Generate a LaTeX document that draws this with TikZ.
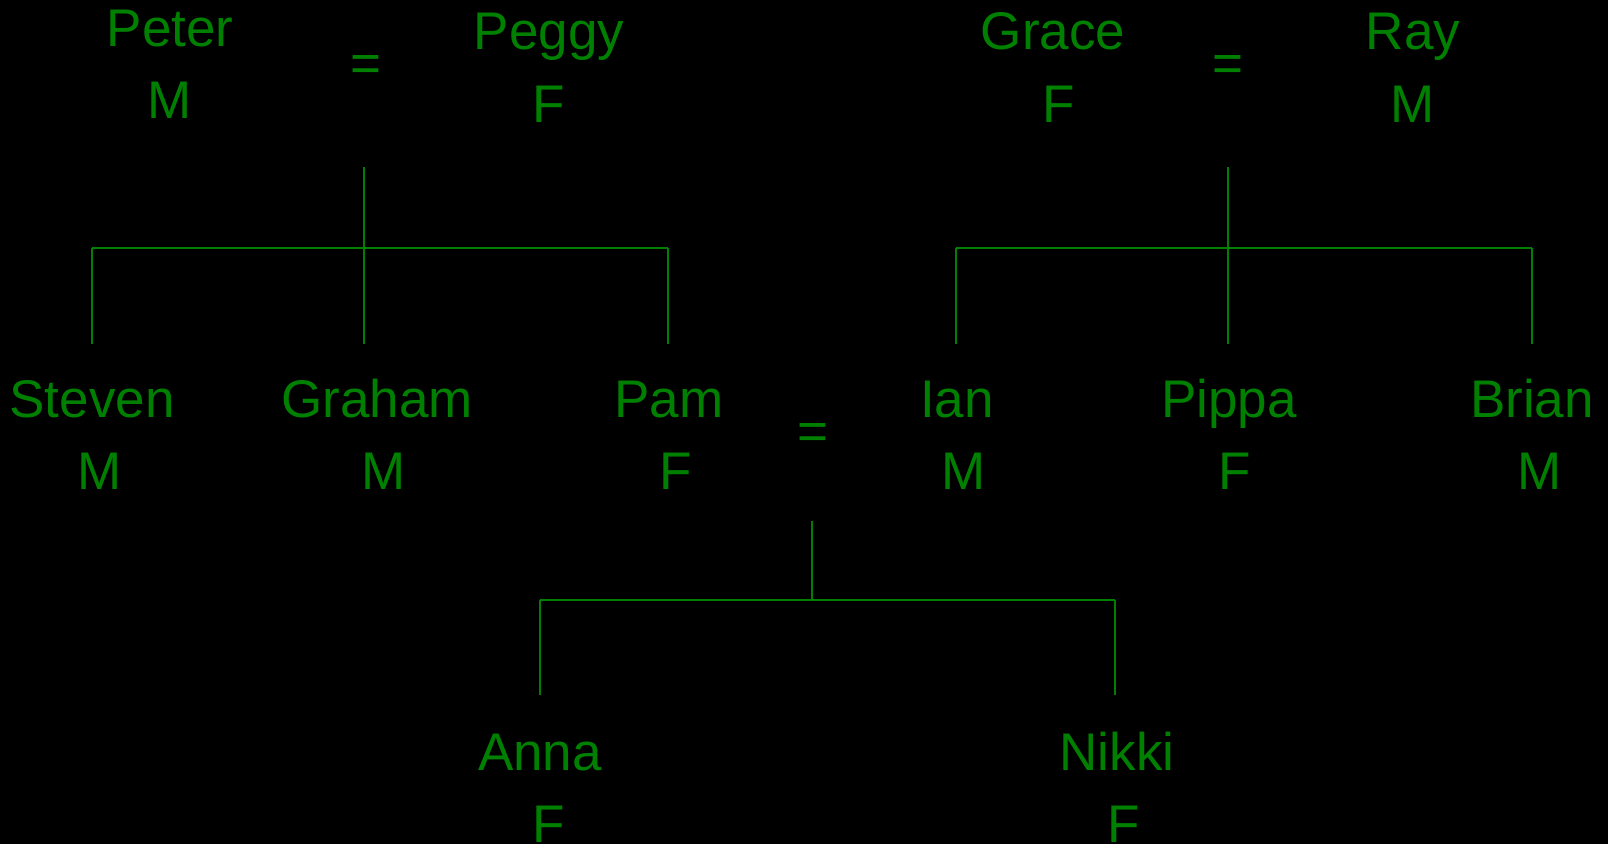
\documentclass[tikz,border=0pt]{standalone}
\usepackage{fontspec}
\setmainfont{Liberation Sans}
\definecolor{famgreen}{HTML}{008000}
\tikzset{
	person/.style = {anchor=base, inner sep=0pt, text=famgreen, font=\fontsize{26.5pt}{32pt}\selectfont},
	sex/.style = {person},
	marry/.style = {person},
	line/.style = {draw=famgreen, line width=0.8pt}
}

\begin{document}
\begin{tikzpicture}[x=0.5pt, y=-0.5pt]
		%背景
		\fill[black] (0,0) rectangle (1608,844);

		%第一代
		\node (peter) [person] at (170,47) {Peter};
		\node (peterS) [sex] at (170,119) {M};
		\node (ppeq) [marry] at (366,82) {=};
		\node (peggy) [person] at (549,50) {Peggy};
		\node (peggyS) [sex] at (549,123) {F};
		\node (grace) [person] at (1053,50) {Grace};
		\node (graceS) [sex] at (1059,123) {F};
		\node (greq) [marry] at (1228,82) {=};
		\node (ray) [person] at (1413,50) {Ray};
		\node (rayS) [sex] at (1413,123) {M};

		%第二代
		\node (steven) [person] at (92,418) {Steven};
		\node (stevenS) [sex] at (100,490) {M};
		\node (graham) [person] at (377,418) {Graham};
		\node (grahamS) [sex] at (384,490) {M};
		\node (pam) [person] at (669,418) {Pam};
		\node (pamS) [sex] at (676,490) {F};
		\node (pieq) [marry] at (813,450) {=};
		\node (ian) [person] at (957,418) {Ian};
		\node (ianS) [sex] at (964,490) {M};
		\node (pippa) [person] at (1229,418) {Pippa};
		\node (pippaS) [sex] at (1235,490) {F};
		\node (brian) [person] at (1532,418) {Brian};
		\node (brianS) [sex] at (1540,490) {M};

		%第三代
		\node (anna) [person] at (540,770) {Anna};
		\node (annaS) [sex] at (549,842) {F};
		\node (nikki) [person] at (1117,770) {Nikki};
		\node (nikkiS) [sex] at (1124,842) {F};

		%连接点
		\coordinate (ppdrop) at (364,167);
		\coordinate (ppbar) at (364,248);
		\coordinate (stevenup) at (92,344);
		\coordinate (grahamup) at (364,344);
		\coordinate (pamup) at (668,344);
		\coordinate (grdrop) at (1228,167);
		\coordinate (grbar) at (1228,248);
		\coordinate (ianup) at (956,344);
		\coordinate (pippaup) at (1228,344);
		\coordinate (brianup) at (1532,344);
		\coordinate (pidrop) at (812,521);
		\coordinate (pibar) at (812,600);
		\coordinate (annaup) at (540,695);
		\coordinate (nikkiup) at (1115,695);

		%连接线
		\path [line](ppdrop) -- (ppbar);
		\path [line](stevenup |- ppbar) -- (pamup |- ppbar);
		\foreach \kid in {stevenup, grahamup, pamup}
			\path [line](\kid |- ppbar) -- (\kid);
		\path [line](grdrop) -- (grbar);
		\path [line](ianup |- grbar) -- (brianup |- grbar);
		\foreach \kid in {ianup, pippaup, brianup}
			\path [line](\kid |- grbar) -- (\kid);
		\path [line](pidrop) -- (pibar);
		\path [line](annaup |- pibar) -- (nikkiup |- pibar);
		\foreach \kid in {annaup, nikkiup}
			\path [line](\kid |- pibar) -- (\kid);
\end{tikzpicture}
\end{document}
